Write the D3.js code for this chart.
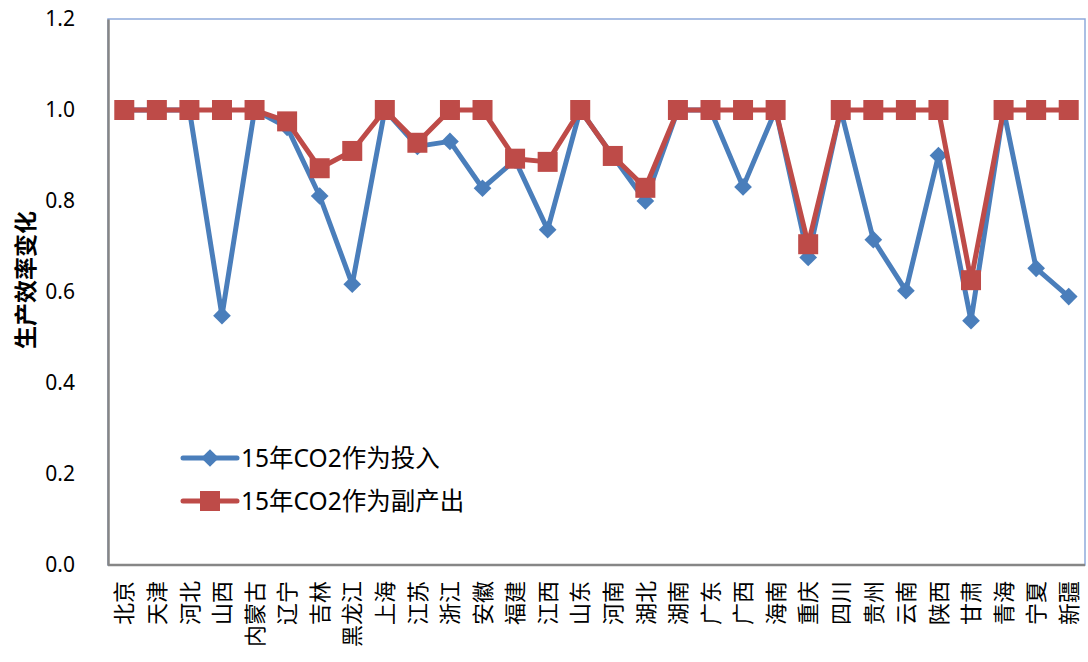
<!DOCTYPE html>
<html>
<head>
<meta charset="utf-8">
<script src="https://cdn.jsdelivr.net/npm/d3@7"></script>
<style>
  body { margin: 0; background: #fff; }
  svg text { font-family: "Noto Sans", "Noto Sans CJK SC", sans-serif; }
</style>
</head>
<body>
<div id="chart"></div>
<script>
// data
var provinces = ["北京","天津","河北","山西","内蒙古","辽宁","吉林","黑龙江","上海","江苏",
  "浙江","安徽","福建","江西","山东","河南","湖北","湖南","广东","广西",
  "海南","重庆","四川","贵州","云南","陕西","甘肃","青海","宁夏","新疆"];
var asInput = [1, 1, 1, 0.548, 1, 0.962, 0.811, 0.617, 1, 0.92,
  0.931, 0.828, 0.89, 0.737, 1, 0.899, 0.8, 1, 1, 0.831,
  1, 0.676, 1, 0.715, 0.603, 0.9, 0.537, 1, 0.652, 0.59];
var asByproduct = [1, 1, 1, 1, 1, 0.975, 0.872, 0.91, 1, 0.928,
  1, 1, 0.893, 0.886, 1, 0.899, 0.829, 1, 1, 1,
  1, 0.705, 1, 1, 1, 1, 0.626, 1, 1, 1];
var seriesNames = ["15年CO2作为投入", "15年CO2作为副产出"];
var yTicks = [0, 0.2, 0.4, 0.6, 0.8, 1.0, 1.2];

var width = 1088, height = 662;
var plotLeft = 108, plotRight = 1085, plotTop = 19, plotBottom = 565;

var svg = d3.select("#chart").append("svg")
  .attr("width", width)
  .attr("height", height);

var x = d3.scalePoint()
  .domain(provinces)
  .range([plotLeft, plotRight])
  .padding(0.5);

var y = d3.scaleLinear()
  .domain([0, 1.2])
  .range([plotBottom, plotTop]);

// plot area border (top/right light blue)
svg.append("rect")
  .attr("x", plotLeft).attr("y", plotTop)
  .attr("width", plotRight - plotLeft).attr("height", plotBottom - plotTop)
  .attr("fill", "none")
  .attr("stroke", "#8eaadb")
  .attr("stroke-width", 1.5);

// y axis
var yAxis = svg.append("g")
  .attr("transform", "translate(" + plotLeft + ",0)")
  .call(d3.axisLeft(y).tickValues(yTicks).tickFormat(d3.format(".1f")).tickSize(0).tickPadding(33));
yAxis.select(".domain").attr("stroke", "#868686").attr("stroke-width", 2.5);
yAxis.selectAll("text").attr("font-size", 21).attr("fill", "#000");

// x axis
var xAxis = svg.append("g")
  .attr("transform", "translate(0," + plotBottom + ")")
  .call(d3.axisBottom(x).tickSize(0).tickSizeOuter(0));
xAxis.select(".domain").attr("stroke", "#868686").attr("stroke-width", 2.5)
  .attr("d", "M" + plotLeft + ",0H" + plotRight);
xAxis.selectAll("text")
  .attr("font-size", 22)
  .attr("fill", "#000")
  .style("font-family", "'Noto Sans CJK SC', sans-serif")
  .attr("transform", "rotate(-90)")
  .attr("text-anchor", "end")
  .attr("x", -16)
  .attr("y", 0)
  .attr("dy", "0.35em");

// y axis title
svg.append("text")
  .attr("transform", "translate(34,280) rotate(-90)")
  .attr("text-anchor", "middle")
  .attr("font-size", 23)
  .attr("font-weight", "bold")
  .style("font-family", "'Noto Sans CJK SC', sans-serif")
  .text("生产效率变化");

var line = d3.line()
  .x(function(d, i) { return x(provinces[i]); })
  .y(function(d) { return y(d); });

var blue = "#4a7ebb", red = "#be4b48";
var diamond = d3.symbol().type(d3.symbolDiamond2).size(200);

// series 1: blue with diamonds
svg.append("path")
  .datum(asInput)
  .attr("d", line)
  .attr("fill", "none")
  .attr("stroke", blue)
  .attr("stroke-width", 5)
  .attr("stroke-linejoin", "round");
svg.selectAll(".dia")
  .data(asInput)
  .enter()
  .append("path")
  .attr("class", "dia")
  .attr("d", diamond)
  .attr("transform", function(d, i) { return "translate(" + x(provinces[i]) + "," + y(d) + ")"; })
  .attr("fill", blue);

// series 2: red with squares
svg.append("path")
  .datum(asByproduct)
  .attr("d", line)
  .attr("fill", "none")
  .attr("stroke", red)
  .attr("stroke-width", 5)
  .attr("stroke-linejoin", "round");
svg.selectAll(".sq")
  .data(asByproduct)
  .enter()
  .append("rect")
  .attr("class", "sq")
  .attr("x", function(d, i) { return x(provinces[i]) - 10; })
  .attr("y", function(d) { return y(d) - 10; })
  .attr("width", 20)
  .attr("height", 20)
  .attr("fill", red);

// legend
var legend = svg.append("g").attr("transform", "translate(183,458)");
var colors = [blue, red];
seriesNames.forEach(function(name, i) {
  var g = legend.append("g").attr("transform", "translate(0," + i * 43 + ")");
  g.append("line")
    .attr("x1", 0).attr("x2", 54)
    .attr("y1", 0).attr("y2", 0)
    .attr("stroke", colors[i])
    .attr("stroke-width", 5)
    .attr("stroke-linecap", "round");
  if (i == 0) {
    g.append("path").attr("d", diamond).attr("transform", "translate(27,0)").attr("fill", blue);
  } else {
    g.append("rect").attr("x", 17).attr("y", -10).attr("width", 20).attr("height", 20).attr("fill", red);
  }
  g.append("text")
    .attr("x", 58)
    .attr("y", 0)
    .attr("dy", "0.35em")
    .attr("font-size", 24.5)
    .text(name);
});
</script>
</body>
</html>
